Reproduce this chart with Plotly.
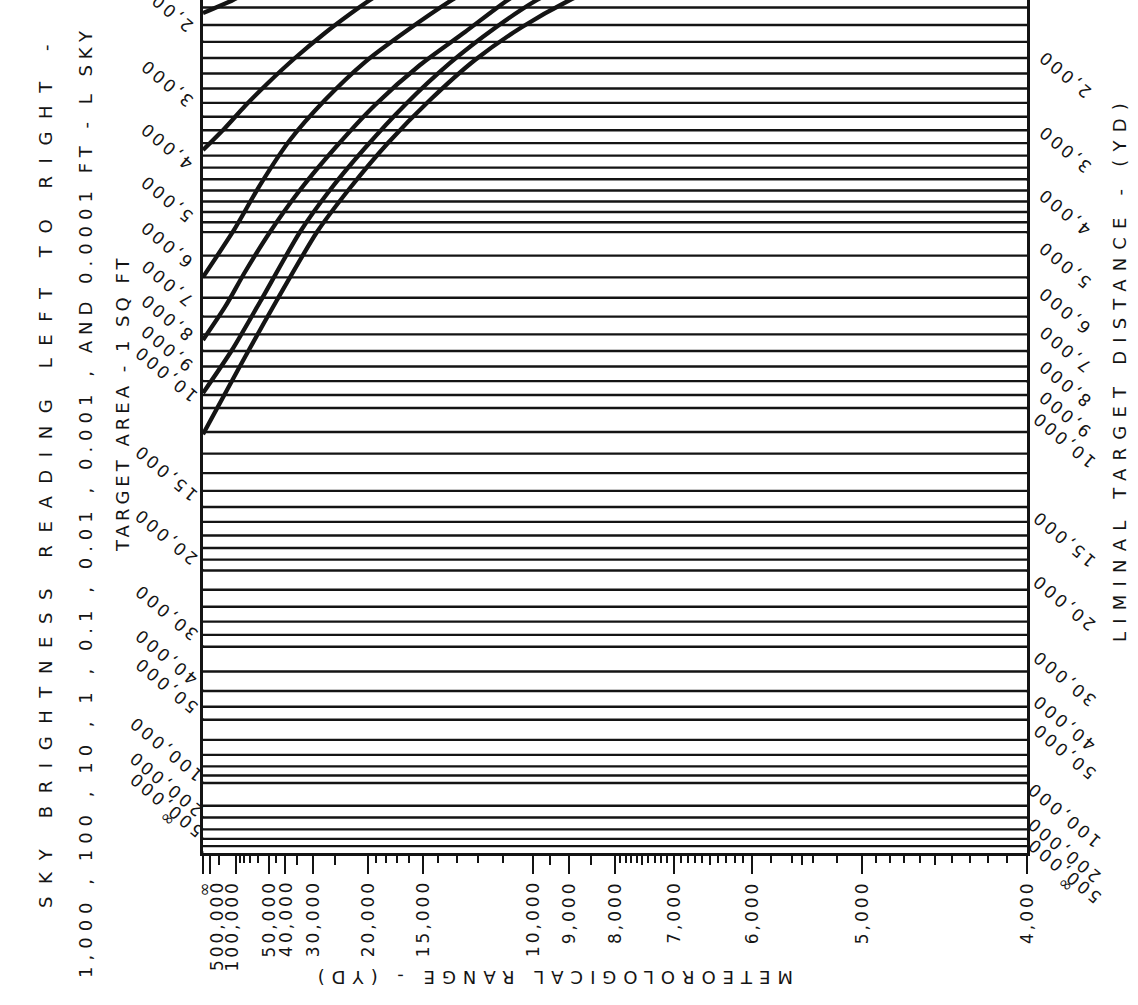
import math
import plotly.graph_objects as go

INF = math.inf

# ---------------- data ----------------
sky_brightness_ftl = ["1,000", "100", "10", "1", "0.1", "0.01", "0.001", "0.0001"]

# liminal-distance curves: meteorological range V (yd) -> liminal target distance D (yd)
curve_1000_range = [INF, 109900, 63380]
curve_1000_dist = [1662, 1517, 1387]

curve_100_range = [INF, 149800, 78480, 50710, 35830, 27020, 22420, 19740, 17440]
curve_100_dist = [3510, 3167, 2844, 2525, 2200, 1894, 1674, 1517, 1366]

curve_10_range = [INF, 106300, 57820, 37890, 27020, 20350, 16320, 13240, 11100]
curve_10_dist = [5990, 4956, 4101, 3351, 2759, 2251, 1882, 1517, 1219]

curve_1_range = [INF, 149800, 78480, 49190, 33980, 24970, 19160, 15190, 12580, 10810, 9499]
curve_1_dist = [7667, 6741, 5872, 4997, 4190, 3478, 2829, 2289, 1882, 1517, 1240]

curve_01_range = [INF, 113700, 57820, 33980, 25950, 20350, 16320, 13340, 11290, 9868, 8743]
curve_01_dist = [9427, 7971, 6610, 4997, 4190, 3478, 2829, 2263, 1835, 1517, 1282]

curve_001_range = [INF, 137300, 70130, 44540, 28910, 22420, 17820, 14520, 12120, 10330,
                   8981, 8000]
curve_001_dist = [11100, 9316, 7909, 6559, 4997, 4154, 3398, 2759, 2225, 1823, 1517, 1302]

# horizontal distance lines (yd)
grid_distances = [1400, 1600, 1800, 2000, 2200, 2400, 2600, 2800, 3000, 3200, 3400, 3600,
                  3800, 4000, 4200, 4400, 4600, 4800, 5000, 5500, 6000, 6500, 7000, 7500,
                  8000, 8500, 9000, 9500, 10000, 11000, 12000, 13000, 14000, 15000, 16000,
                  17000, 18000, 19000, 20000, 22000, 24000, 26000, 28000, 30000, 35000,
                  40000, 45000, 50000, 60000, 70000, 80000, 90000, 100000, 150000, 200000,
                  300000, 500000, 1000000]

# labelled distance ticks (both vertical scales)
distance_tick_values = [2000, 3000, 4000, 5000, 6000, 7000, 8000, 9000, 10000, 15000, 20000,
                        30000, 40000, 50000, 100000, 200000, 500000, INF]
distance_tick_text = ["2,000", "3,000", "4,000", "5,000", "6,000", "7,000", "8,000", "9,000",
                      "10,000", "15,000", "20,000", "30,000", "40,000", "50,000", "100,000",
                      "200,000", "500,000", "∞"]

# meteorological range axis (yd)
range_tick_values = [INF, 500000, 100000, 50000, 40000, 30000, 20000, 15000, 10000, 9000,
                     8000, 7000, 6000, 5000, 4000]
range_tick_text = ["∞", "500,000", "100,000", "50,000", "40,000", "30,000", "20,000", "15,000",
                   "10,000", "9,000", "8,000", "7,000", "6,000", "5,000", "4,000"]
range_label_nudge = {"500,000": 7, "100,000": -4}
range_medium_ticks = [200000, 35000, 25000, 9500, 8500, 7500, 6500, 5500, 4500]
range_minor_ticks = ([90000, 80000, 70000, 60000, 45000, 19000, 18000, 17000, 16000,
                      14000, 13000, 12000, 11000]
                     + [7900, 7800, 7700, 7600, 7400, 7300, 7200, 7100]
                     + [6900, 6800, 6700, 6600, 6400, 6300, 6200, 6100]
                     + [5800, 5600, 5400, 5200]
                     + [4900, 4800, 4700, 4600, 4400, 4300, 4200, 4100])


# ---------------- nomogram scales ----------------
def range_to_x(v):
    """reciprocal meteorological-range scale"""
    return 0.0 if math.isinf(v) else 1e4 / v


def dist_to_y(d):
    """liminal-distance scale of the nomogram"""
    return 0.0 if math.isinf(d) else (1e4 / (d + 8200.0)) ** 1.037


INK = "#141414"
FONT = "DejaVu Sans"
X_MAX = range_to_x(4000)

fig = go.Figure()

# horizontal distance lines
gx, gy = [], []
for d in grid_distances:
    gx += [range_to_x(INF), X_MAX, None]
    gy += [dist_to_y(d), dist_to_y(d), None]
fig.add_trace(go.Scatter(x=gx, y=gy, mode="lines", line=dict(color=INK, width=2.4),
                         hoverinfo="skip"))

# sky-brightness curves
curves = [
    (curve_1000_range, curve_1000_dist),
    (curve_100_range, curve_100_dist),
    (curve_10_range, curve_10_dist),
    (curve_1_range, curve_1_dist),
    (curve_01_range, curve_01_dist),
    (curve_001_range, curve_001_dist),
]
for (vr, dd), name in zip(curves, sky_brightness_ftl):
    fig.add_trace(go.Scatter(x=[range_to_x(v) for v in vr], y=[dist_to_y(d) for d in dd],
                             mode="lines", line=dict(color=INK, width=4.3, shape="spline",
                                                     smoothing=0.7),
                             name=name + " ft-L", hoverinfo="skip"))

shapes = []
annotations = []
lab_font = dict(family=FONT, size=17, color=INK)


def spaced(t, px):
    return '<span style="letter-spacing:%spx">%s</span>' % (px, t)


for d, t in zip(distance_tick_values, distance_tick_text):
    yv = dist_to_y(d)
    shapes.append(dict(type="line", xref="x", yref="y", xsizemode="pixel", ysizemode="pixel",
                       xanchor=0, yanchor=yv, x0=-12, y0=11, x1=0, y1=0,
                       line=dict(color=INK, width=2.4)))
    shapes.append(dict(type="line", xref="x", yref="y", xsizemode="pixel", ysizemode="pixel",
                       xanchor=X_MAX, yanchor=yv, x0=0, y0=0, x1=12, y1=-9,
                       line=dict(color=INK, width=2.4)))
    annotations.append(dict(x=0, y=yv, xref="x", yref="y", text=spaced(t, 3), showarrow=False,
                            xanchor="center", yanchor="middle",
                            textangle=-140, xshift=-37, yshift=34, font=lab_font))
    annotations.append(dict(x=X_MAX, y=yv, xref="x", yref="y", text=spaced(t, 3),
                            showarrow=False, xanchor="center", yanchor="middle",
                            textangle=-140, xshift=37, yshift=-32, font=lab_font))

for v, t in zip(range_tick_values, range_tick_text):
    annotations.append(dict(x=range_to_x(v), y=0, xref="x", yref="paper", text=spaced(t, 3),
                            showarrow=False, xanchor="center", yanchor="top", textangle=-90,
                            xshift=range_label_nudge.get(t, 0), yshift=-25, font=lab_font))

title_font = dict(family=FONT, size=18, color=INK)
PW, PH, L = 824.0, 853.0, 203.0


def px(xp):
    return (xp - L) / PW


def py(yp):
    return (PH - yp) / PH


annotations += [
    dict(x=px(45), y=py(470), xref="paper", yref="paper", showarrow=False,
         xanchor="center", yanchor="middle", textangle=-90, font=title_font,
         text=spaced("SKY BRIGHTNESS READING LEFT TO RIGHT -", 12.6)),
    dict(x=px(85), y=py(502), xref="paper", yref="paper", showarrow=False,
         xanchor="center", yanchor="middle", textangle=-90, font=title_font,
         text=spaced("1,000 , 100 , 10 , 1 , 0.1 , 0.01 , 0.001 , AND 0.0001 FT - L SKY", 6)),
    dict(x=px(122), y=py(404), xref="paper", yref="paper", showarrow=False,
         xanchor="center", yanchor="middle", textangle=-90, font=title_font,
         text=spaced("TARGET AREA - 1 SQ FT", 4)),
    dict(x=px(1120), y=py(369), xref="paper", yref="paper", showarrow=False,
         xanchor="center", yanchor="middle", textangle=-90, font=title_font,
         text=spaced("LIMINAL TARGET DISTANCE - (YD)", 8.2)),
    dict(x=px(552), y=py(978), xref="paper", yref="paper", showarrow=False,
         xanchor="center", yanchor="middle", textangle=180, font=title_font,
         text=spaced("METEOROLOGICAL RANGE - (YD)", 7)),
]

fig.update_layout(
    width=1138, height=1005,
    margin=dict(l=203, r=111, t=0, b=152),
    plot_bgcolor="white", paper_bgcolor="white",
    showlegend=False, hovermode=False,
    shapes=shapes, annotations=annotations,
    xaxis=dict(range=[0, X_MAX], showgrid=False, zeroline=False, showline=True,
               linecolor=INK, linewidth=3, ticks="outside", ticklen=18, tickwidth=2.4,
               tickcolor=INK, showticklabels=False,
               tickvals=[range_to_x(v) for v in range_tick_values],
               minor=dict(tickvals=[range_to_x(v) for v in range_minor_ticks], ticks="outside",
                          ticklen=7, tickwidth=2, tickcolor=INK, showgrid=False)),
    xaxis2=dict(range=[0, X_MAX], overlaying="x", matches="x", anchor="y", side="bottom",
                showgrid=False, zeroline=False, showline=False, ticks="outside",
                ticklen=11, tickwidth=2.2, tickcolor=INK, showticklabels=False,
                tickvals=[range_to_x(v) for v in range_medium_ticks]),
    yaxis=dict(range=[0, 853 / 828], showgrid=False, zeroline=False, showline=True,
               mirror=True, linecolor=INK, linewidth=3, ticks="", showticklabels=False),
)
fig.add_trace(go.Scatter(x=[0, X_MAX], y=[None, None], xaxis="x2", mode="lines",
                         hoverinfo="skip", showlegend=False))

fig.write_html("out.html", config={"displayModeBar": False},
               post_script="document.body.style.margin='0';"
                           "document.body.style.overflow='hidden';")
